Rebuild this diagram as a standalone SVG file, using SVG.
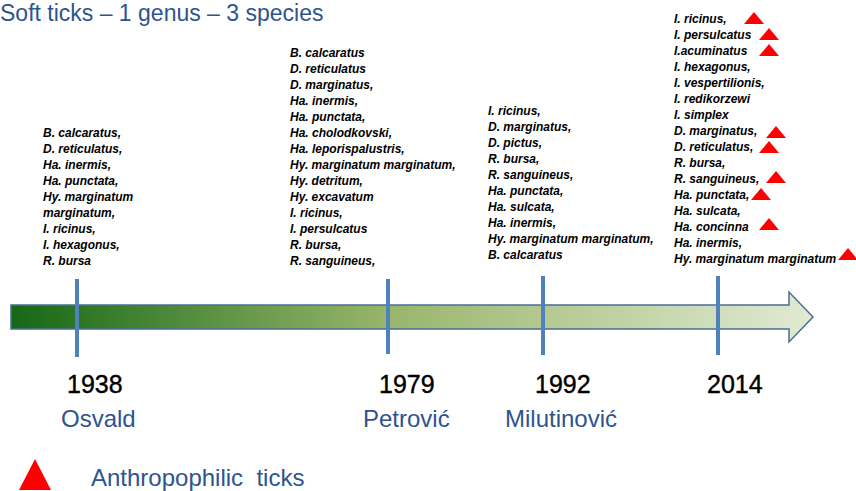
<svg xmlns="http://www.w3.org/2000/svg" width="856" height="491" viewBox="0 0 856 491">
<style>
.title{font-family:"Liberation Sans",Arial,sans-serif;font-size:23px;fill:#2e548e}
.name{font-family:"Liberation Sans",Arial,sans-serif;font-size:24px;fill:#2e548e}
.year{font-family:"Liberation Sans",Arial,sans-serif;font-size:25px;fill:#000;stroke:#000;stroke-width:0.4}
.sp{font-family:"Liberation Sans",Arial,sans-serif;font-size:12px;font-weight:bold;font-style:italic;fill:#000}
.tick{stroke:#4f81bd;stroke-width:4}
.tri{fill:#ff0000}
</style>
<defs>
<linearGradient id="g" x1="11" y1="0" x2="813" y2="0" gradientUnits="userSpaceOnUse">
<stop offset="0" stop-color="#166816"/>
<stop offset="0.47" stop-color="#98b56b"/>
<stop offset="1" stop-color="#e1ead3"/>
</linearGradient>
<polygon id="t" points="0,12 10,0 20,12"/>
</defs>
<text class="title" x="0" y="21">Soft ticks – 1 genus – 3 species</text>
<g id="timeline">
<path d="M11,305 L789,305 L789,292 L813,317 L789,342 L789,329 L11,329 Z" fill="url(#g)" stroke="#4a6e96" stroke-width="1.5"/>
</g>
<g id="connectors">
<line class="tick" x1="77" y1="279" x2="77" y2="357"/>
<line class="tick" x1="388" y1="279" x2="388" y2="354"/>
<line class="tick" x1="543" y1="276" x2="543" y2="355"/>
<line class="tick" x1="718" y1="276" x2="718" y2="355"/>
</g>
<g id="n1938">
<text class="year" x="67" y="393">1938</text>
<text class="name" x="61" y="427">Osvald</text>
<text class="sp" x="43">
<tspan x="43" y="137">B. calcaratus,</tspan>
<tspan x="43" y="153">D. reticulatus,</tspan>
<tspan x="43" y="169">Ha. inermis,</tspan>
<tspan x="43" y="185">Ha. punctata,</tspan>
<tspan x="43" y="201">Hy. marginatum</tspan>
<tspan x="43" y="217">marginatum,</tspan>
<tspan x="43" y="233">I. ricinus,</tspan>
<tspan x="43" y="249">I. hexagonus,</tspan>
<tspan x="43" y="265">R. bursa</tspan>
</text>
</g>
<g id="n1979">
<text class="year" x="379" y="393">1979</text>
<text class="name" x="363" y="427">Petrović</text>
<text class="sp">
<tspan x="290" y="57">B. calcaratus</tspan>
<tspan x="290" y="73">D. reticulatus</tspan>
<tspan x="290" y="89">D. marginatus,</tspan>
<tspan x="290" y="105">Ha. inermis,</tspan>
<tspan x="290" y="121">Ha. punctata,</tspan>
<tspan x="290" y="137">Ha. cholodkovski,</tspan>
<tspan x="290" y="153">Ha. leporispalustris,</tspan>
<tspan x="290" y="169">Hy. marginatum marginatum,</tspan>
<tspan x="290" y="185">Hy. detritum,</tspan>
<tspan x="290" y="201">Hy. excavatum</tspan>
<tspan x="290" y="217">I. ricinus,</tspan>
<tspan x="290" y="233">I. persulcatus</tspan>
<tspan x="290" y="249">R. bursa,</tspan>
<tspan x="290" y="265">R. sanguineus,</tspan>
</text>
</g>
<g id="n1992">
<text class="year" x="535" y="393">1992</text>
<text class="name" x="505" y="427">Milutinović</text>
<text class="sp">
<tspan x="488" y="115">I. ricinus,</tspan>
<tspan x="488" y="131">D. marginatus,</tspan>
<tspan x="488" y="147">D. pictus,</tspan>
<tspan x="488" y="163">R. bursa,</tspan>
<tspan x="488" y="179">R. sanguineus,</tspan>
<tspan x="488" y="195">Ha. punctata,</tspan>
<tspan x="488" y="211">Ha. sulcata,</tspan>
<tspan x="488" y="227">Ha. inermis,</tspan>
<tspan x="488" y="243">Hy. marginatum marginatum,</tspan>
<tspan x="488" y="259">B. calcaratus</tspan>
</text>
</g>
<g id="n2014">
<text class="year" x="707" y="393">2014</text>
<text class="sp">
<tspan x="674" y="23">I. ricinus,</tspan>
<tspan x="674" y="39">I. persulcatus</tspan>
<tspan x="674" y="55">I.acuminatus</tspan>
<tspan x="674" y="71">I. hexagonus,</tspan>
<tspan x="674" y="87">I. vespertilionis,</tspan>
<tspan x="674" y="103">I. redikorzewi</tspan>
<tspan x="674" y="119">I. simplex</tspan>
<tspan x="674" y="135">D. marginatus,</tspan>
<tspan x="674" y="151">D. reticulatus,</tspan>
<tspan x="674" y="167">R. bursa,</tspan>
<tspan x="674" y="183">R. sanguineus,</tspan>
<tspan x="674" y="199">Ha. punctata,</tspan>
<tspan x="674" y="215">Ha. sulcata,</tspan>
<tspan x="674" y="231">Ha. concinna</tspan>
<tspan x="674" y="247">Ha. inermis,</tspan>
<tspan x="674" y="263">Hy. marginatum marginatum</tspan>
</text>
<g class="tri">
<use href="#t" x="744" y="12"/>
<use href="#t" x="759" y="28"/>
<use href="#t" x="759" y="44"/>
<use href="#t" x="766" y="126"/>
<use href="#t" x="759" y="141"/>
<use href="#t" x="766" y="171"/>
<use href="#t" x="751" y="188"/>
<use href="#t" x="759" y="218"/>
<use href="#t" x="838" y="248"/>
</g>
</g>
<g id="legend">
<polygon class="tri" points="19,490 35,459 51,490"/>
<text class="name" x="91" y="486" xml:space="preserve">Anthropophilic  ticks</text>
</g>
</svg>
